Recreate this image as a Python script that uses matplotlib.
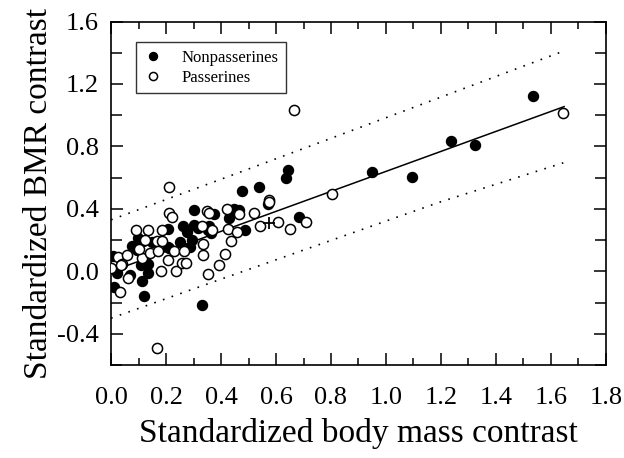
import matplotlib
matplotlib.use("Agg")
import matplotlib.pyplot as plt
from matplotlib.ticker import MultipleLocator, FormatStrFormatter

# Nonpasserines (filled)
non_x = [0.006, 0.010, 0.021, 0.069, 0.075, 0.097, 0.093, 0.110, 0.112, 0.118,
         0.124, 0.133, 0.136, 0.148, 0.117, 0.206, 0.206, 0.212, 0.252, 0.262,
         0.275, 0.287, 0.293, 0.303, 0.300, 0.317, 0.332, 0.351, 0.358, 0.362,
         0.374, 0.430, 0.447, 0.464, 0.477, 0.487, 0.539, 0.571, 0.635, 0.645,
         0.684, 0.949, 1.094, 1.235, 1.325, 1.535]
non_y = [0.100, -0.098, -0.010, -0.025, 0.160, 0.215, 0.135, 0.040, -0.062, -0.158,
         0.070, -0.010, 0.050, 0.185, 0.195, 0.273, 0.156, 0.150, 0.190, 0.288,
         0.255, 0.156, 0.198, 0.390, 0.295, 0.275, -0.218, 0.262, 0.290, 0.245,
         0.366, 0.342, 0.400, 0.390, 0.514, 0.262, 0.537, 0.430, 0.600, 0.652,
         0.350, 0.635, 0.606, 0.834, 0.812, 1.124]

# Passerines (open)
pas_x = [0.000, 0.025, 0.032, 0.039, 0.057, 0.061, 0.036, 0.090, 0.133, 0.114,
         0.122, 0.141, 0.100, 0.167, 0.167, 0.170, 0.184, 0.184, 0.183, 0.206,
         0.210, 0.210, 0.223, 0.230, 0.238, 0.257, 0.271, 0.264, 0.329, 0.336,
         0.333, 0.348, 0.356, 0.351, 0.368, 0.394, 0.416, 0.420, 0.426, 0.435,
         0.458, 0.464, 0.520, 0.542, 0.574, 0.574, 0.606, 0.651, 0.664, 0.709,
         0.804, 1.645]
pas_y = [0.023, 0.092, -0.134, 0.045, 0.105, -0.043, 0.038, 0.267, 0.262, 0.085,
         0.203, 0.120, 0.140, 0.194, -0.488, 0.130, 0.262, 0.194, 0.002, 0.070,
         0.539, 0.373, 0.348, 0.130, 0.002, 0.055, 0.055, 0.130, 0.288, 0.177,
         0.107, 0.386, 0.375, -0.015, 0.267, 0.043, 0.113, 0.399, 0.271, 0.194,
         0.252, 0.365, 0.375, 0.292, 0.458, 0.445, 0.316, 0.271, 1.036, 0.313,
         0.497, 1.015]

# extra cross mark
cross_x = [0.575]
cross_y = [0.31]

# regression line through origin and prediction band
fit_x = [0.0, 1.648]
fit_y = [0.0, 1.055]
band_x = [0.0, 0.4, 0.8, 1.2, 1.645]
band_hi = [0.330, 0.590, 0.852, 1.116, 1.410]
band_lo = [-0.300, -0.050, 0.198, 0.446, 0.695]

plt.rcParams['font.family'] = ['Liberation Serif', 'DejaVu Serif']

fig = plt.figure(figsize=(6.24, 4.58), dpi=100)
ax = fig.add_axes([0.178, 0.203, 0.793, 0.750])

ax.plot(fit_x, fit_y, color='black', lw=1.1, zorder=2)
ax.plot(band_x, band_hi, color='black', lw=1.2, ls=(0, (1, 4.5)), zorder=2)
ax.plot(band_x, band_lo, color='black', lw=1.2, ls=(0, (1, 4.5)), zorder=2)

ax.plot(non_x, non_y, 'o', ms=7.3, mfc='black', mec='black', mew=0.9,
        ls='none', zorder=3, label='Nonpasserines')
ax.plot(pas_x, pas_y, 'o', ms=7.3, mfc='white', mec='black', mew=1.1,
        ls='none', zorder=4, label='Passerines')
ax.plot(cross_x, cross_y, '+', ms=8, mec='black', mew=1.3, ls='none', zorder=5)

ax.set_xlim(0, 1.8)
ax.set_ylim(-0.6, 1.6)
ax.xaxis.set_major_locator(MultipleLocator(0.2))
ax.xaxis.set_minor_locator(MultipleLocator(0.1))
ax.yaxis.set_major_locator(MultipleLocator(0.4))
ax.yaxis.set_minor_locator(MultipleLocator(0.2))
ax.xaxis.set_major_formatter(FormatStrFormatter('%.1f'))
ax.yaxis.set_major_formatter(FormatStrFormatter('%.1f'))

ax.tick_params(which='both', direction='in', top=True, right=True, width=1.1,
               labelsize=19)
ax.tick_params(axis='x', which='major', length=8.5, pad=16)
ax.tick_params(axis='x', which='minor', length=5)
ax.tick_params(axis='y', which='major', length=8.5, pad=9)
ax.tick_params(axis='y', which='minor', length=8)
for s in ax.spines.values():
    s.set_linewidth(1.2)

ax.set_xlabel('Standardized body mass contrast', fontsize=24, labelpad=6)
ax.set_ylabel('Standardized BMR contrast', fontsize=24, labelpad=2)

leg = ax.legend(loc='upper left', bbox_to_anchor=(0.05, 0.94), borderaxespad=0,
                fontsize=12, frameon=True, fancybox=False, edgecolor='black',
                markerscale=0.8, handletextpad=1.1, borderpad=0.45,
                labelspacing=0.25, handlelength=1.2)
leg.get_frame().set_linewidth(1.0)

fig.savefig('out.png', dpi=100)
